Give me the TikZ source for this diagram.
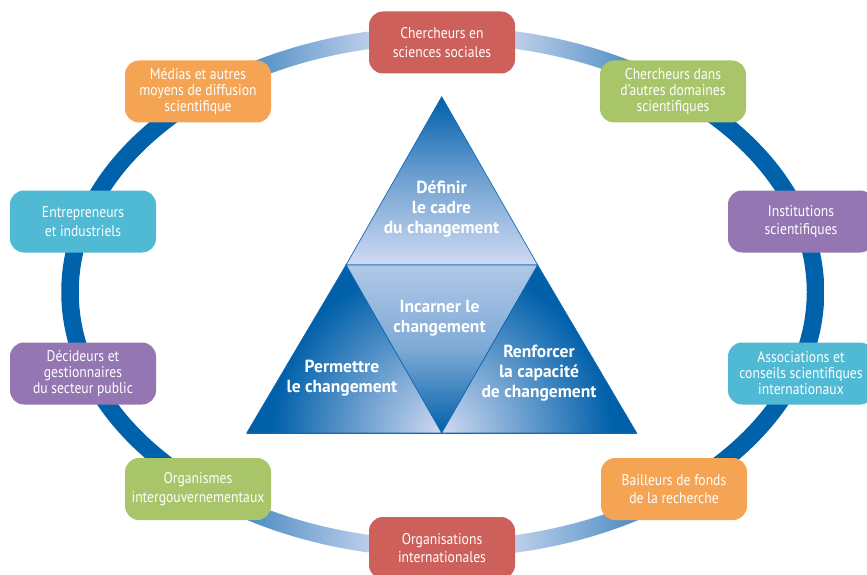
\documentclass[tikz,border=0pt]{standalone}
\usepackage{fontspec}
\setmainfont[FakeStretch=0.88, BoldFeatures={FakeStretch=1.0}]{PT Sans}
\definecolor{ringdark}{RGB}{0,98,170}
\definecolor{ringlight}{RGB}{200,212,238}
\definecolor{tridark}{RGB}{0,96,170}
\definecolor{trilight}{RGB}{208,218,242}
\definecolor{triedge}{RGB}{20,105,180}
\definecolor{cred}{RGB}{206,96,92}
\definecolor{cgreen}{RGB}{168,197,106}
\definecolor{cpurple}{RGB}{148,119,178}
\definecolor{ccyan}{RGB}{80,185,212}
\definecolor{corange}{RGB}{245,164,84}
\pgfdeclarehorizontalshading{ringshade}{100bp}{color(0bp)=(ringdark); color(32bp)=(ringdark); color(46bp)=(ringlight); color(54bp)=(ringlight); color(68bp)=(ringdark); color(100bp)=(ringdark)}
\begin{document}
\begin{tikzpicture}[x=1pt,y=-1pt,
  box/.style={rounded corners=14pt, minimum width=146pt, minimum height=62pt, inner sep=0pt, align=center, text=white, font=\fontsize{15.5}{16}\selectfont},
  two/.style={font=\fontsize{15.5}{18.5}\selectfont},
  tri/.style={text=white, align=center, inner sep=0pt, font=\bfseries\fontsize{17.5}{20}\selectfont},
  triline/.style={draw=triedge, line width=0.7pt, line join=miter}]
\useasboundingbox (0,0) rectangle (867,575);
\clip (0,0) rectangle (867,575);
% ring
\shade[shading=ringshade, even odd rule]
  (442.75,292) ellipse [x radius=381.5pt, y radius=265.5pt]
  (442.75,292) ellipse [x radius=364pt, y radius=248pt];
% triangle vertices
\coordinate (apex) at (441.7,96.7);
\coordinate (ml) at (346,265);
\coordinate (mr) at (537.7,265);
\coordinate (bl) at (246.7,433);
\coordinate (bm) at (441.7,433);
\coordinate (br) at (636.7,433);
% top triangle
\shade[top color=tridark, bottom color=trilight, middle color=tridark!45!trilight] (apex) -- (mr) -- (ml) -- cycle;
\draw[triline] (apex) -- (mr) -- (ml) -- cycle;
% middle triangle
\shade[top color=trilight!85!tridark, bottom color=tridark, middle color=tridark!40!trilight] (ml) -- (mr) -- (bm) -- cycle;
\draw[triline] (ml) -- (mr) -- (bm) -- cycle;
% left triangle
\begin{scope}
\clip (ml) -- (bm) -- (bl) -- cycle;
\fill[tridark] (ml) -- (bm) -- (bl) -- cycle;
\shade[inner color=trilight, outer color=tridark] (bm) circle [radius=170pt];
\end{scope}
\draw[triline] (ml) -- (bm) -- (bl) -- cycle;
% right triangle
\begin{scope}
\clip (mr) -- (br) -- (bm) -- cycle;
\fill[tridark] (mr) -- (br) -- (bm) -- cycle;
\shade[inner color=trilight, outer color=tridark] (bm) circle [radius=170pt];
\end{scope}
\draw[triline] (mr) -- (br) -- (bm) -- cycle;
\draw[triedge, line width=1pt] (bl) -- (br);
% triangle labels
\node[tri] (t1) at (441.5,209) {Définir\\le cadre\\du changement};
\node[tri] (t2) at (439.5,318) {Incarner le\\changement};
\node[tri] (t3) at (342,378) {Permettre\\le changement};
\node[tri] (t4) at (539,373) {Renforcer\\la capacité\\de changement};
% boxes
\node[box, two, fill=cred] (b1) at (442,42.5) {Chercheurs en\\sciences sociales};
\node[box, fill=corange] (b2) at (198,91.5) {Médias et autres\\moyens de diffusion\\scientifique};
\node[box, fill=cgreen] (b3) at (673,91.5) {Chercheurs dans\\d’autres domaines\\scientifiques};
\node[box, two, fill=ccyan] (b4) at (83,221.5) {Entrepreneurs\\et industriels};
\node[box, two, fill=cpurple] (b5) at (801,221.5) {Institutions\\scientifiques};
\node[box, fill=cpurple] (b6) at (83,373.5) {Décideurs et\\gestionnaires\\du secteur public};
\node[box, fill=ccyan] (b7) at (801,373.5) {Associations et\\conseils scientifiques\\internationaux};
\node[box, two, fill=cgreen] (b8) at (198,489) {Organismes\\intergouvernementaux};
\node[box, two, fill=corange] (b9) at (674,489) {Bailleurs de fonds\\de la recherche};
\node[box, two, fill=cred] (b10) at (442,548) {Organisations\\internationales};
\end{tikzpicture}
\end{document}
